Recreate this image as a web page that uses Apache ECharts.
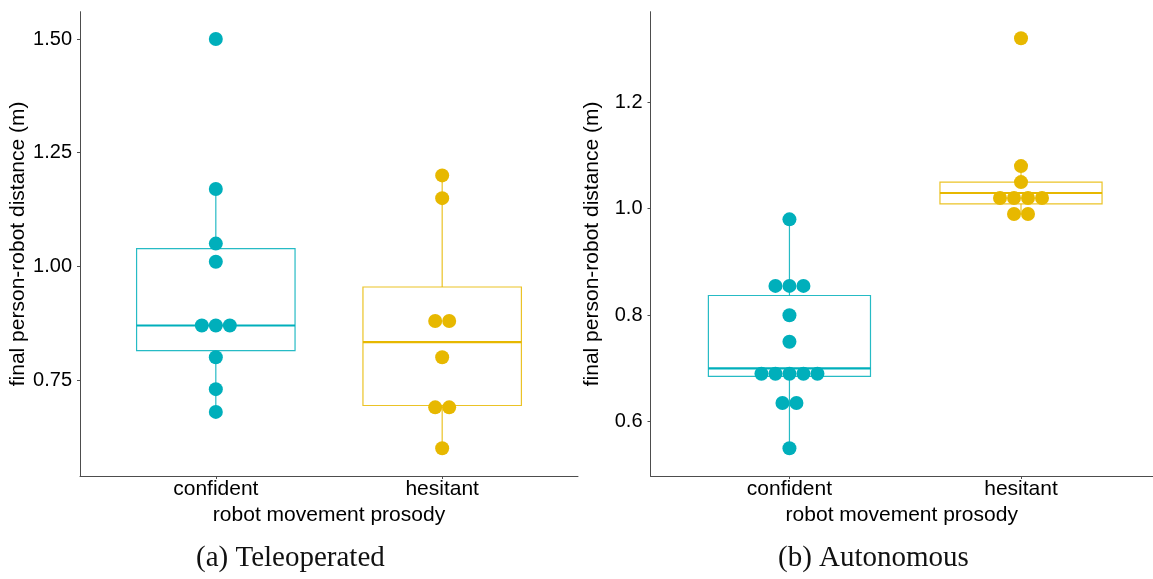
<!DOCTYPE html>
<html>
<head>
<meta charset="utf-8">
<script src="https://cdn.jsdelivr.net/npm/echarts@6/dist/echarts.min.js"></script>
<style>
html,body{margin:0;padding:0;background:#fff;}
#chart{width:1153px;height:579px;}
</style>
</head>
<body>
<div id="chart"></div>
<script>
// ---- data ----
const categories = ['confident', 'hesitant'];
const panelTitles = ['(a) Teleoperated', '(b) Autonomous'];
const yAxisTitle = 'final person-robot distance (m)';
const xAxisTitle = 'robot movement prosody';

// dot values (as drawn, binned)
const teleConfident = [1.50, 1.17, 1.05, 1.01, 0.87, 0.87, 0.87, 0.80, 0.73, 0.68];
const teleHesitant  = [1.20, 1.15, 0.88, 0.88, 0.80, 0.69, 0.69, 0.60];
const autoConfident = [0.98, 0.855, 0.855, 0.855, 0.80, 0.75, 0.69, 0.69, 0.69, 0.69, 0.69, 0.635, 0.635, 0.55];
const autoHesitant  = [1.32, 1.08, 1.05, 1.02, 1.02, 1.02, 1.02, 0.99, 0.99];

// box stats: [lower whisker, Q1, median, Q3, upper whisker]
const teleConfidentBox = [0.68, 0.8145, 0.87, 1.039, 1.169];
const teleHesitantBox  = [0.599, 0.694, 0.8336, 0.9546, 1.199];
const autoConfidentBox = [0.55, 0.685, 0.70, 0.837, 0.98];
const autoHesitantBox  = [0.99, 1.009, 1.0295, 1.05, 1.08];

// tick labels
const teleTicks = [0.75, 1.00, 1.25, 1.50];
const autoTicks = [0.6, 0.8, 1.0, 1.2];

const colors = ['#00AFBB', '#E7B800'];
const dotSize = 14;
const boxHalf = 0.35;

function dotData(values, catIndex) {
  // centre-stacked dots: equal values spread side by side
  const counts = {}, seen = {};
  values.forEach(v => { counts[v] = (counts[v] || 0) + 1; });
  return values.map(v => {
    const n = counts[v];
    const i = seen[v] = (seen[v] === undefined ? 0 : seen[v] + 1);
    return { value: [catIndex + 1, v], symbolOffset: [(i - (n - 1) / 2) * dotSize, 0] };
  });
}

function boxRender(color) {
  return function (params, api) {
    const x = api.value(0);
    const lo = api.value(1), q1 = api.value(2), med = api.value(3), q3 = api.value(4), hi = api.value(5);
    const pTL = api.coord([x - boxHalf, q3]);
    const pBR = api.coord([x + boxHalf, q1]);
    const pMedL = api.coord([x - boxHalf, med]);
    const pMedR = api.coord([x + boxHalf, med]);
    const pHi = api.coord([x, hi]);
    const pQ3 = api.coord([x, q3]);
    const pQ1 = api.coord([x, q1]);
    const pLo = api.coord([x, lo]);
    const thin = { stroke: color, lineWidth: 1.2, fill: null, opacity: 0.85 };
    return {
      type: 'group',
      children: [
        { type: 'line', shape: { x1: pHi[0], y1: pHi[1], x2: pQ3[0], y2: pQ3[1] }, style: thin },
        { type: 'line', shape: { x1: pQ1[0], y1: pQ1[1], x2: pLo[0], y2: pLo[1] }, style: thin },
        { type: 'rect', shape: { x: pTL[0], y: pTL[1], width: pBR[0] - pTL[0], height: pBR[1] - pTL[1] },
          style: { stroke: color, lineWidth: 1.2, fill: null, opacity: 0.85 } },
        { type: 'line', shape: { x1: pMedL[0], y1: pMedL[1], x2: pMedR[0], y2: pMedR[1] },
          style: { stroke: color, lineWidth: 2.2 } }
      ]
    };
  };
}

const fontSans = '"Liberation Sans", Arial, Helvetica, sans-serif';
const axisLineStyle = { color: '#4d4d4d', width: 1 };

function xAxisFor(gridIndex, xmax) {
  return {
    type: 'value', gridIndex, min: 0.4, max: xmax,
    name: xAxisTitle, nameLocation: 'middle', nameGap: 24,
    nameTextStyle: { fontFamily: fontSans, fontSize: 21, color: '#000' },
    axisLine: { show: true, lineStyle: axisLineStyle },
    axisTick: { show: true, length: 3, customValues: [1, 2], lineStyle: axisLineStyle },
    axisLabel: { customValues: [1, 2], margin: 3, fontFamily: fontSans, fontSize: 21, color: '#000',
      formatter: v => categories[Math.round(v) - 1] },
    splitLine: { show: false }
  };
}
function yAxisFor(gridIndex, min, max, ticks, digits) {
  return {
    type: 'value', gridIndex, min, max,
    name: yAxisTitle, nameLocation: 'middle', nameRotate: 90, nameGap: 48,
    nameTextStyle: { fontFamily: fontSans, fontSize: 21, color: '#000' },
    axisLine: { show: true, lineStyle: axisLineStyle },
    axisTick: { show: true, length: 3, customValues: ticks, lineStyle: axisLineStyle },
    axisLabel: { customValues: ticks, margin: 8, fontFamily: fontSans, fontSize: 20, color: '#000',
      formatter: v => v.toFixed(digits) },
    splitLine: { show: false }
  };
}

const panels = [
  { boxes: [teleConfidentBox, teleHesitantBox], dots: [teleConfident, teleHesitant] },
  { boxes: [autoConfidentBox, autoHesitantBox], dots: [autoConfident, autoHesitant] }
];

const series = [];
panels.forEach((p, g) => {
  p.boxes.forEach((b, c) => {
    series.push({
      type: 'custom', xAxisIndex: g, yAxisIndex: g, z: 2,
      renderItem: boxRender(colors[c]),
      encode: { x: 0, y: [1, 2, 3, 4, 5] },
      data: [[c + 1].concat(b)],
      silent: true
    });
  });
  p.dots.forEach((d, c) => {
    series.push({
      type: 'scatter', xAxisIndex: g, yAxisIndex: g, z: 5,
      symbol: 'circle', symbolSize: dotSize,
      itemStyle: { color: colors[c], opacity: 1 },
      data: dotData(d, c),
      silent: true
    });
  });
});

const chart = echarts.init(document.getElementById('chart'), null, { renderer: 'canvas' });
chart.setOption({
  animation: false,
  backgroundColor: '#fff',
  grid: [
    { left: 80, width: 498, top: 11.7, bottom: 103, containLabel: false },
    { left: 650.5, right: 0, top: 11.7, bottom: 103, containLabel: false }
  ],
  // right panel is cropped at the image edge in the reference, so its x range ends before 2.6
  xAxis: [xAxisFor(0, 2.6), xAxisFor(1, 2.57)],
  yAxis: [yAxisFor(0, 0.539, 1.56, teleTicks, 2), yAxisFor(1, 0.498, 1.370, autoTicks, 1)],
  graphic: [
    { type: 'text', left: 293 - 97, top: 544,
      style: { text: panelTitles[0], fontFamily: '"Liberation Serif", "DejaVu Serif", serif', fontSize: 29, fill: '#111' } },
    { type: 'text', left: 876 - 98, top: 544,
      style: { text: panelTitles[1], fontFamily: '"Liberation Serif", "DejaVu Serif", serif', fontSize: 29, fill: '#111' } }
  ],
  series
});
</script>
</body>
</html>
